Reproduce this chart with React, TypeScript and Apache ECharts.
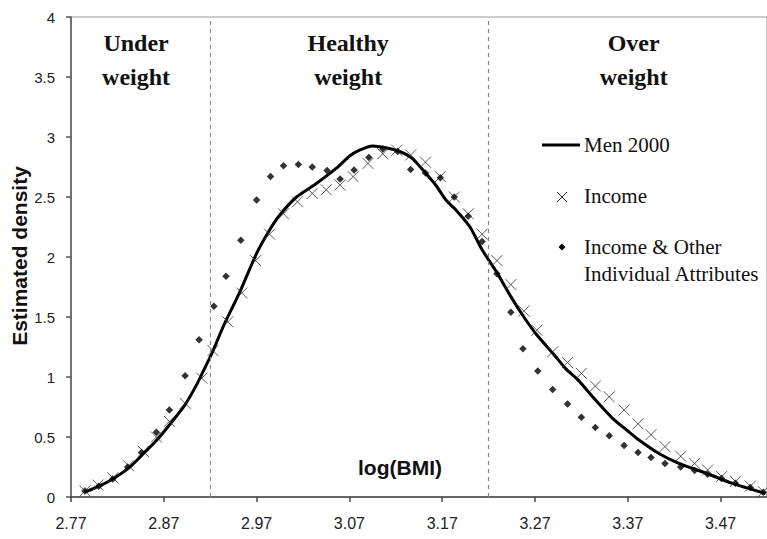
import React, { useEffect, useRef } from "react";
import * as echarts from "echarts";

const xTicks = [2.77, 2.87, 2.97, 3.07, 3.17, 3.27, 3.37, 3.47];
const cutoffs = [2.9178, 3.2189];
const regionLabels = [
  { lines: ["Under", "weight"], x: 2.84 },
  { lines: ["Healthy", "weight"], x: 3.068 },
  { lines: ["Over", "weight"], x: 3.375 },
];

const menX = [2.785, 2.8, 2.815, 2.832, 2.848, 2.862, 2.876, 2.893, 2.905, 2.912, 2.922, 2.934, 2.952, 2.97, 2.984, 2.995, 3.013, 3.034, 3.056, 3.07, 3.081, 3.095, 3.109, 3.124, 3.138, 3.152, 3.163, 3.174, 3.185, 3.2, 3.213, 3.229, 3.244, 3.258, 3.272, 3.289, 3.303, 3.317, 3.335, 3.353, 3.37, 3.382, 3.404, 3.425, 3.454, 3.482, 3.518];
const menY = [0.04, 0.09, 0.15, 0.24, 0.36, 0.47, 0.6, 0.77, 0.93, 1.04, 1.2, 1.42, 1.71, 2.03, 2.225, 2.35, 2.5, 2.61, 2.74, 2.84, 2.89, 2.925, 2.91, 2.88, 2.82, 2.7, 2.6, 2.475, 2.39, 2.25, 2.06, 1.87, 1.67, 1.5, 1.35, 1.2, 1.07, 0.97, 0.81, 0.66, 0.55, 0.475, 0.36, 0.28, 0.2, 0.115, 0.03];

const incomeX = [2.785, 2.799, 2.815, 2.832, 2.848, 2.862, 2.876, 2.893, 2.911, 2.923, 2.939, 2.954, 2.969, 2.984, 2.999, 3.014, 3.03, 3.045, 3.06, 3.074, 3.09, 3.106, 3.121, 3.136, 3.152, 3.168, 3.183, 3.198, 3.213, 3.229, 3.244, 3.258, 3.272, 3.289, 3.305, 3.32, 3.335, 3.35, 3.366, 3.381, 3.395, 3.41, 3.427, 3.442, 3.456, 3.471, 3.486, 3.502, 3.516];
const incomeY = [0.05, 0.1, 0.16, 0.26, 0.38, 0.5, 0.63, 0.78, 0.99, 1.22, 1.46, 1.7, 1.97, 2.19, 2.36, 2.46, 2.53, 2.56, 2.6, 2.67, 2.78, 2.86, 2.89, 2.85, 2.79, 2.67, 2.5, 2.36, 2.19, 1.97, 1.77, 1.55, 1.39, 1.21, 1.12, 1.03, 0.925, 0.835, 0.725, 0.61, 0.52, 0.42, 0.34, 0.28, 0.225, 0.17, 0.13, 0.09, 0.045];

const otherX = [2.785, 2.8, 2.815, 2.831, 2.846, 2.862, 2.876, 2.893, 2.908, 2.924, 2.937, 2.953, 2.97, 2.985, 2.999, 3.015, 3.03, 3.046, 3.06, 3.075, 3.091, 3.106, 3.122, 3.136, 3.152, 3.168, 3.183, 3.198, 3.213, 3.229, 3.244, 3.257, 3.273, 3.289, 3.305, 3.32, 3.335, 3.35, 3.366, 3.381, 3.395, 3.41, 3.427, 3.442, 3.456, 3.471, 3.486, 3.502, 3.516];
const otherY = [0.05, 0.09, 0.15, 0.25, 0.37, 0.54, 0.725, 1.01, 1.31, 1.59, 1.84, 2.14, 2.475, 2.67, 2.76, 2.77, 2.75, 2.72, 2.65, 2.725, 2.83, 2.9, 2.88, 2.73, 2.7, 2.66, 2.5, 2.34, 2.13, 1.86, 1.54, 1.235, 1.05, 0.895, 0.775, 0.665, 0.58, 0.51, 0.43, 0.37, 0.33, 0.28, 0.25, 0.22, 0.19, 0.155, 0.115, 0.08, 0.04];

const seriesNames = ["Men 2000", "Income", "Income & Other", "Individual Attributes"];
const yTitle = "Estimated density";
const xTitle = "log(BMI)";

const SERIF = '"Liberation Serif", "Times New Roman", serif';
const SANS = '"Liberation Sans", Arial, sans-serif';

const zip = (xs: number[], ys: number[]) => xs.map((x, i) => [x, ys[i]]);

export default function App() {
  const ref = useRef<HTMLDivElement>(null);
  useEffect(() => {
    if (!ref.current) return;
    const chart = echarts.init(ref.current, null, { renderer: "svg" });
    const gridLeft = 71;
    const gridTop = 17;
    const gridW = 697.5;
    const xMin = 2.77;
    const xMax = 3.52;
    const px = (v: number) => gridLeft + ((v - xMin) / (xMax - xMin)) * gridW;

    const graphics: any[] = [];
    regionLabels.forEach((r) => {
      r.lines.forEach((t, i) => {
        graphics.push({
          type: "text",
          x: px(r.x),
          y: 43 + i * 34,
          style: {
            text: t,
            fontSize: 24,
            fontWeight: "bold",
            fontFamily: SERIF,
            fill: "#111",
            align: "center",
            verticalAlign: "middle",
          },
        });
      });
    });
    graphics.push({
      type: "line",
      shape: { x1: 542, y1: 145, x2: 580, y2: 145 },
      style: { stroke: "#000", lineWidth: 3 },
    });
    graphics.push({
      type: "line",
      shape: { x1: 557, y1: 192, x2: 567, y2: 202 },
      style: { stroke: "#333", lineWidth: 1 },
    });
    graphics.push({
      type: "line",
      shape: { x1: 567, y1: 192, x2: 557, y2: 202 },
      style: { stroke: "#333", lineWidth: 1 },
    });
    graphics.push({
      type: "polygon",
      shape: { points: [[562, 243.5], [565.5, 247], [562, 250.5], [558.5, 247]] },
      style: { fill: "#000" },
    });
    const legendText = [
      { t: seriesNames[0], y: 145 },
      { t: seriesNames[1], y: 196 },
      { t: seriesNames[2], y: 247 },
      { t: seriesNames[3], y: 274 },
    ];
    legendText.forEach((l) => {
      graphics.push({
        type: "text",
        x: 584,
        y: l.y,
        style: {
          text: l.t,
          fontSize: 21,
          fontFamily: SERIF,
          fill: "#111",
          align: "left",
          verticalAlign: "middle",
        },
      });
    });
    graphics.push({
      type: "text",
      x: 400,
      y: 467,
      style: {
        text: xTitle,
        fontSize: 21,
        fontWeight: "bold",
        fontFamily: SANS,
        fill: "#111",
        align: "center",
        verticalAlign: "middle",
      },
    });
    graphics.push({
      type: "text",
      x: 19,
      y: 256,
      rotation: Math.PI / 2,
      style: {
        text: yTitle,
        fontSize: 21,
        fontWeight: "bold",
        fontFamily: SANS,
        fill: "#111",
        align: "center",
        verticalAlign: "middle",
      },
    });

    chart.setOption({
      animation: false,
      backgroundColor: "#fff",
      grid: {
        left: gridLeft,
        top: gridTop,
        width: gridW,
        height: 480,
        show: true,
        borderColor: "#999",
        borderWidth: 1,
        containLabel: false,
      },
      xAxis: {
        type: "value",
        min: xMin,
        max: xMax,
        splitLine: { show: false },
        axisLine: { show: true, onZero: false, lineStyle: { color: "#444", width: 1.5 } },
        axisTick: { show: true, length: 5, customValues: xTicks, lineStyle: { color: "#444", width: 1.5 } },
        axisLabel: {
          customValues: xTicks,
          formatter: (v: number) => v.toFixed(2),
          fontSize: 16,
          fontFamily: SANS,
          color: "#222",
          margin: 18,
        },
      },
      yAxis: {
        type: "value",
        min: 0,
        max: 4,
        interval: 0.5,
        splitLine: { show: false },
        axisLine: { show: true, lineStyle: { color: "#555", width: 1.5 } },
        axisTick: { show: true, length: 5, lineStyle: { color: "#555", width: 1.5 } },
        axisLabel: {
          fontSize: 15,
          fontFamily: SANS,
          color: "#222",
          margin: 16,
        },
      },
      graphic: graphics,
      series: [
        {
          name: seriesNames[0],
          type: "line",
          data: zip(menX, menY),
          showSymbol: false,
          smooth: 0.2,
          lineStyle: { color: "#000", width: 3 },
          z: 3,
          markLine: {
            silent: true,
            symbol: "none",
            label: { show: false },
            lineStyle: { type: [4, 4], color: "#888", width: 1.2 },
            data: cutoffs.map((c) => ({ xAxis: c })),
          },
        },
        {
          name: seriesNames[1],
          type: "scatter",
          data: zip(incomeX, incomeY),
          symbol: "path://M0,0L10,10M10,0L0,10",
          symbolSize: 11,
          itemStyle: { color: "rgba(0,0,0,0)", borderColor: "#333", borderWidth: 1 },
          z: 4,
        },
        {
          name: seriesNames[2],
          type: "scatter",
          data: zip(otherX, otherY),
          symbol: "diamond",
          symbolSize: 7.5,
          itemStyle: { color: "#000" },
          z: 5,
        },
      ],
    });
    return () => chart.dispose();
  }, []);
  return (
    <div
      ref={ref}
      style={{ position: "fixed", left: 0, top: 0, width: 767, height: 539, background: "#fff" }}
    />
  );
}
